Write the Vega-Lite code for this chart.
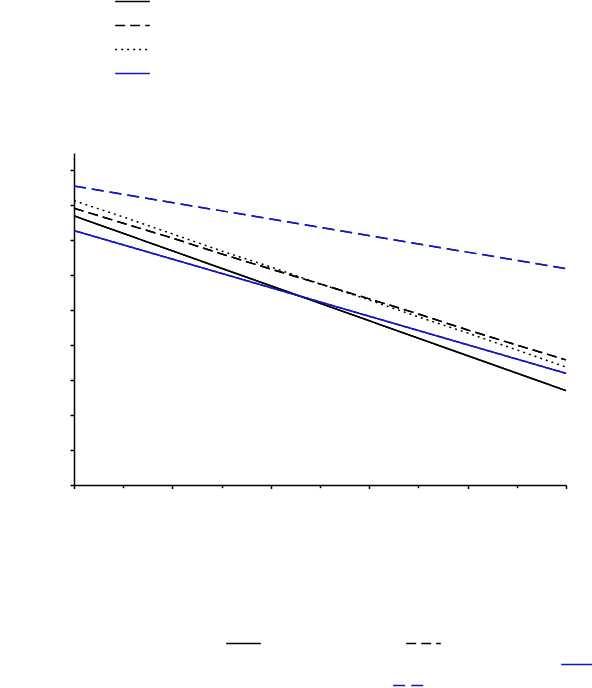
{
  "$schema": "https://vega.github.io/schema/vega-lite/v6.json",
  "width": 492,
  "height": 332,
  "autosize": {"type": "none"},
  "padding": {"left": 74, "top": 153, "right": 26, "bottom": 203},
  "background": "white",
  "config": {
    "view": {"stroke": null},
    "legend": {"title": null, "labelColor": "#ffffff", "labelFontSize": 11, "symbolSize": 1200, "symbolStrokeWidth": 1.5, "symbolType": "stroke", "padding": 0, "orient": "none", "rowPadding": 0},
    "axis": {"domainColor": "#000000", "domainWidth": 1.5, "tickColor": "#000000", "tickWidth": 1.5, "labelColor": "#ffffff", "grid": false, "title": null, "labelPadding": 1},
    "axisX": {"values": [0,1,2,3,4,5,6,7,8,9,10], "tickSize": {"condition": {"test": "datum.value % 2 === 0", "value": 3.5}, "value": 2.7}},
    "axisY": {"values": [0,1,2,3,4,5,6,7,8,9,10,11,12,13,14,15,16,17,18,19], "tickSize": {"condition": {"test": "datum.value % 2 === 0", "value": 4}, "value": 2}, "labelExpr": "datum.value % 2 === 0 ? datum.label : ''"}
  },
  "data": {"values": [
    {"s": "A", "x": 0, "y": 15.40}, {"s": "A", "x": 10, "y": 5.40},
    {"s": "B", "x": 0, "y": 15.84}, {"s": "B", "x": 1, "y": 14.98}, {"s": "B", "x": 2, "y": 14.13}, {"s": "B", "x": 3, "y": 13.22}, {"s": "B", "x": 4, "y": 12.36}, {"s": "B", "x": 5, "y": 11.51}, {"s": "B", "x": 6, "y": 10.65}, {"s": "B", "x": 7, "y": 9.79}, {"s": "B", "x": 8, "y": 8.87}, {"s": "B", "x": 9, "y": 8.01}, {"s": "B", "x": 10, "y": 7.16},
    {"s": "C", "x": 0, "y": 16.27}, {"s": "C", "x": 1, "y": 15.34}, {"s": "C", "x": 2, "y": 14.37}, {"s": "C", "x": 3, "y": 13.39}, {"s": "C", "x": 4, "y": 12.48}, {"s": "C", "x": 5, "y": 11.51}, {"s": "C", "x": 6, "y": 10.59}, {"s": "C", "x": 7, "y": 9.62}, {"s": "C", "x": 8, "y": 8.70}, {"s": "C", "x": 9, "y": 7.73}, {"s": "C", "x": 10, "y": 6.75},
    {"s": "D", "x": 0, "y": 14.56}, {"s": "D", "x": 10, "y": 6.39},
    {"s": "E", "x": 0, "y": 17.11}, {"s": "E", "x": 10, "y": 12.38}
  ]},
  "resolve": {"scale": {"color": "independent", "strokeDash": "independent"}},
  "layer": [
    {
      "mark": {"type": "line", "strokeWidth": 1.5},
      "encoding": {
        "x": {"field": "x", "type": "quantitative", "scale": {"domain": [0, 10], "nice": false, "zero": false}},
        "y": {"field": "y", "type": "quantitative", "scale": {"domain": [0, 19], "nice": false, "zero": false}},
        "color": {"field": "s", "type": "nominal", "scale": {"domain": ["A","B","C","D","E"], "range": ["#000000","#000000","#000000","#1414c8","#1414c8"]},
                  "legend": {"values": ["A","B","C","D"], "legendX": 40, "legendY": -170}},
        "strokeDash": {"field": "s", "type": "nominal", "scale": {"domain": ["A","B","C","D","E"], "range": [[1,0],[10,5],[2,4],[1,0],[12,6]]},
                  "legend": {"values": ["A","B","C","D"], "legendX": 40, "legendY": -170}}
      }
    },
    {
      "transform": [{"filter": "datum.s === 'A'"}],
      "mark": {"type": "line", "strokeWidth": 1.5},
      "encoding": {
        "x": {"field": "x", "type": "quantitative"},
        "y": {"field": "y", "type": "quantitative"},
        "color": {"field": "s", "type": "nominal", "scale": {"domain": ["A"], "range": ["#000000"]}, "legend": {"legendX": 151, "legendY": 472}},
        "strokeDash": {"field": "s", "type": "nominal", "scale": {"domain": ["A"], "range": [[1,0]]}, "legend": {"legendX": 151, "legendY": 472}}
      }
    },
    {
      "transform": [{"filter": "datum.s === 'B'"}],
      "mark": {"type": "line", "strokeWidth": 1.5},
      "encoding": {
        "x": {"field": "x", "type": "quantitative"},
        "y": {"field": "y", "type": "quantitative"},
        "color": {"field": "s", "type": "nominal", "scale": {"domain": ["B"], "range": ["#000000"]}, "legend": {"legendX": 331, "legendY": 472}},
        "strokeDash": {"field": "s", "type": "nominal", "scale": {"domain": ["B"], "range": [[10,5]]}, "legend": {"legendX": 331, "legendY": 472}}
      }
    },
    {
      "transform": [{"filter": "datum.s === 'D'"}],
      "mark": {"type": "line", "strokeWidth": 1.5},
      "encoding": {
        "x": {"field": "x", "type": "quantitative"},
        "y": {"field": "y", "type": "quantitative"},
        "color": {"field": "s", "type": "nominal", "scale": {"domain": ["D"], "range": ["#1414c8"]}, "legend": {"legendX": 486, "legendY": 493}},
        "strokeDash": {"field": "s", "type": "nominal", "scale": {"domain": ["D"], "range": [[1,0]]}, "legend": {"legendX": 486, "legendY": 493}}
      }
    },
    {
      "transform": [{"filter": "datum.s === 'E'"}],
      "mark": {"type": "line", "strokeWidth": 1.5},
      "encoding": {
        "x": {"field": "x", "type": "quantitative"},
        "y": {"field": "y", "type": "quantitative"},
        "color": {"field": "s", "type": "nominal", "scale": {"domain": ["E"], "range": ["#1414c8"]}, "legend": {"legendX": 318, "legendY": 514}},
        "strokeDash": {"field": "s", "type": "nominal", "scale": {"domain": ["E"], "range": [[12,6]]}, "legend": {"legendX": 318, "legendY": 514}}
      }
    }
  ]
}
